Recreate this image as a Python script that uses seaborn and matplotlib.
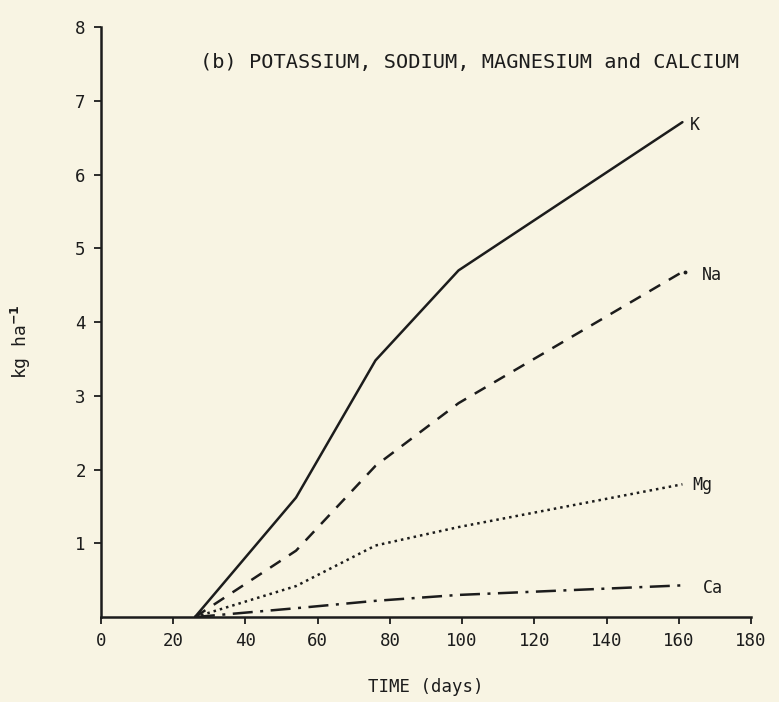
import numpy as np
import matplotlib
matplotlib.use("Agg")
import matplotlib.pyplot as plt
import seaborn as sns
import pandas as pd

# sampling days and cumulative loss (kg/ha)
days = [26, 54, 76, 99, 161]
potassium = [0.0, 1.62, 3.48, 4.70, 6.71]
sodium = [0.0, 0.90, 2.05, 2.90, 4.68]
magnesium = [0.0, 0.42, 0.97, 1.22, 1.80]
calcium = [0.0, 0.12, 0.22, 0.30, 0.43]
elements = ["K", "Na", "Mg", "Ca"]

x_ticks = [0, 20, 40, 60, 80, 100, 120, 140, 160, 180]
y_ticks = [1, 2, 3, 4, 5, 6, 7, 8]

title = "(b) POTASSIUM, SODIUM, MAGNESIUM and CALCIUM"
xlabel = "TIME (days)"
ylabel = r"kg ha$^{\mathbf{-1}}$"

df = pd.DataFrame({
    "days": days * 4,
    "kg": potassium + sodium + magnesium + calcium,
    "element": [e for e in elements for _ in days],
})

paper = "#f8f4e3"
ink = "#1c1c1c"

sns.set_theme(style="ticks")
plt.rcParams["font.family"] = ["DejaVu Sans Mono", "DejaVu Sans"]
plt.rcParams["mathtext.fontset"] = "dejavusans"

fig = plt.figure(figsize=(7.79, 7.02), dpi=100, facecolor=paper)
ax = fig.add_axes([0.1297, 0.121, 0.8344, 0.8405])
ax.set_facecolor(paper)

dash_styles = {
    "K": "",
    "Na": (5, 4.0),
    "Mg": (1.0, 1.6),
    "Ca": (8, 3, 1.2, 3),
}
sns.lineplot(data=df, x="days", y="kg", style="element", dashes=dash_styles,
             color=ink, linewidth=1.8, legend=False, ax=ax)

# end-of-line labels
label_pos = {"K": (163.2, 6.67), "Na": (166.5, 4.64),
             "Mg": (163.7, 1.79), "Ca": (166.8, 0.39)}
for name, (lx, ly) in label_pos.items():
    ax.text(lx, ly, name, fontsize=12, color=ink, ha="left", va="center")
ax.plot([161.8], [4.68], marker="o", markersize=1.8, color=ink)

ax.text(27.4, 7.52, title, fontsize=14.6, color=ink, ha="left", va="center")

ax.set_xlim(0, 180)
ax.set_ylim(0, 8)
ax.set_xticks(x_ticks)
ax.set_yticks(y_ticks)
ax.tick_params(axis="both", direction="out", length=5, width=1.3,
               colors=ink, labelsize=12.5, pad=6)
sns.despine(ax=ax)
for side in ["left", "bottom"]:
    ax.spines[side].set_linewidth(1.8)
    ax.spines[side].set_color(ink)

ax.set_xlabel(xlabel, fontsize=12.5, color=ink, labelpad=20)
ax.set_ylabel(ylabel, fontsize=13, color=ink)
ax.yaxis.set_label_coords(-0.105, 0.466)

fig.savefig("out.png", dpi=100, facecolor=paper)
